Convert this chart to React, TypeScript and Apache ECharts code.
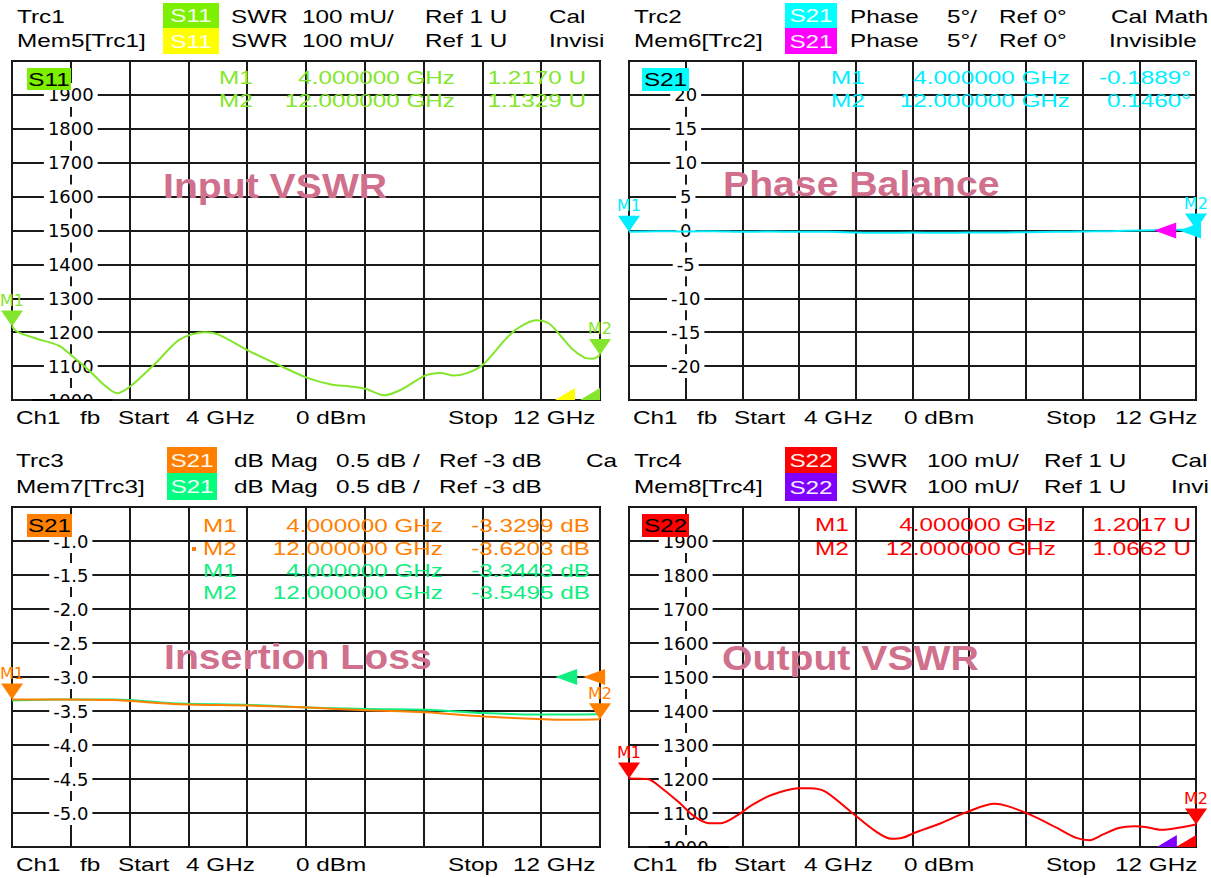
import React, { useEffect, useRef } from 'react';
import * as echarts from 'echarts';

// ---------- data ----------
const markerFreqs = [4, 12];

const s11Freq = [4.0, 4.08, 4.35, 4.64, 4.79, 5.06, 5.25, 5.43, 5.62, 5.96, 6.28, 6.62, 6.81, 7.22, 7.66, 8.01, 8.34, 8.6, 8.81, 9.06, 9.3, 9.62, 9.83, 10.01, 10.2, 10.41, 10.73, 10.89, 11.13, 11.31, 11.47, 11.63, 11.79, 11.9, 12.0];
const s11Swr = [1217.0, 1200, 1180, 1160, 1135, 1085, 1045, 1020, 1042, 1110, 1178, 1200, 1193, 1145, 1100, 1066, 1046, 1040, 1033, 1014, 1031, 1072, 1080, 1072, 1080, 1105, 1183, 1213, 1235, 1225, 1188, 1149, 1125, 1122, 1132.9];
const s11Markers = [1217.0, 1132.9];

const phaseFreq = [4.0, 4.4, 4.8, 5.2, 5.6, 6.0, 6.4, 6.8, 7.2, 7.6, 8.0, 8.4, 8.8, 9.2, 9.6, 10.0, 10.4, 10.8, 11.2, 11.6, 12.0];
const phaseDeg = [-0.1889, -0.1, -0.15, -0.1, -0.2, -0.15, -0.2, -0.2, -0.3, -0.35, -0.3, -0.35, -0.3, -0.3, -0.25, -0.2, -0.15, -0.1, 0.0, 0.1, 0.146];
const phaseMarkers = [-0.1889, 0.146];

const ilFreq = [4.0, 4.6, 5.38, 6.28, 7.23, 8.03, 8.82, 9.62, 10.41, 11.2, 11.47, 12.0];
const ilTrc3 = [-3.3299, -3.33, -3.34, -3.4, -3.42, -3.45, -3.49, -3.52, -3.58, -3.62, -3.63, -3.6203];
const ilMem7 = [-3.3443, -3.33, -3.33, -3.39, -3.41, -3.45, -3.47, -3.48, -3.53, -3.55, -3.55, -3.5495];
const ilTrc3Markers = [-3.3299, -3.6203];
const ilMem7Markers = [-3.3443, -3.5495];

const s22Freq = [4.0, 4.26, 4.48, 4.7, 4.92, 5.13, 5.3, 5.52, 5.74, 6.01, 6.39, 6.55, 6.77, 7.15, 7.48, 7.7, 7.86, 8.02, 8.4, 8.78, 9.16, 9.33, 9.66, 10.04, 10.31, 10.5, 10.69, 10.91, 11.13, 11.29, 11.51, 11.73, 12.0];
const s22Swr = [1201.7, 1200, 1170, 1132, 1090, 1070, 1070, 1092, 1124, 1153, 1173, 1173, 1163, 1100, 1046, 1024, 1027, 1041, 1070, 1104, 1127, 1121, 1095, 1056, 1027, 1020, 1037, 1056, 1061, 1059, 1051, 1056, 1066.2];
const s22Markers = [1201.7, 1066.2];

const footerWords = ['Ch1', 'fb', 'Start', '4 GHz', '0 dBm', 'Stop', '12 GHz'];

// ---------- styling ----------
const FONT = '"Liberation Sans", Arial, sans-serif';
const SX = 1.35;
const GREEN = '#84E62C';
const GREEN_BADGE = '#7CF000';
const YELLOW = '#FFFF00';
const CYAN = '#00EEFF';
const CYAN_BADGE = '#00FFFF';
const MAGENTA = '#FF00FF';
const ORANGE = '#FF8000';
const SPRING = '#10EE80';
const SPRING_BADGE = '#00FF80';
const RED = '#FF0000';
const PURPLE = '#8000FF';
const PINK = '#D0708C';
const GRIDC = '#1a1a1a';

const DOWN = 'path://M0,0L22,0L11,16Z';
const LEFT = 'path://M0,8L22,0L22,16Z';
const CORNER = 'path://M0,12L20,0L20,12Z';

const zip = (xs: number[], ys: number[]) => xs.map((x, i) => [x, ys[i]]);

function txt(text: string, x: number, y: number, fill: string, align = 'left', size = 18, weight = 'normal', sx = SX) {
  return {
    type: 'text', x, y, scaleX: sx, silent: true, z: 50,
    style: { text, fill, font: `${weight} ${size}px ${FONT}`, align, verticalAlign: 'middle' },
  };
}
function badge(label: string, x: number, y: number, w: number, h: number, bg: string, fg: string) {
  return [
    { type: 'rect', shape: { x, y, width: w, height: h }, style: { fill: bg }, z: 49, silent: true },
    txt(label, x + w / 2, y + h / 2 + 1, fg, 'center'),
  ];
}
function mDown(name: string, coord: number[], color: string) {
  return {
    coord, symbol: DOWN, symbolSize: [22, 16], symbolOffset: [0, -8],
    itemStyle: { color },
    label: { show: !!name, formatter: name, position: 'top', distance: 2, color, fontSize: 16, fontFamily: 'DejaVu Sans' },
  };
}
function mLeft(coord: number[], color: string) {
  return { coord, symbol: LEFT, symbolSize: [22, 16], symbolOffset: [11, 0], itemStyle: { color }, label: { show: false } };
}
function mCorner(coord: number[], color: string) {
  return { coord, symbol: CORNER, symbolSize: [20, 12], symbolOffset: [-10, -6], itemStyle: { color }, label: { show: false } };
}
const freqTxt = (f: number) => f.toFixed(6) + ' GHz';

const grids = [
  { left: 12, top: 61, width: 588, height: 339 },
  { left: 629, top: 61, width: 567, height: 339 },
  { left: 12, top: 507, width: 588, height: 340 },
  { left: 629, top: 507, width: 567, height: 340 },
];
const yRanges = [
  { min: 1000, max: 2000, interval: 100 },
  { min: -25, max: 25, interval: 5 },
  { min: -5.5, max: -0.5, interval: 0.5 },
  { min: 1000, max: 2000, interval: 100 },
];
const showMin = [true, false, false, true];

function footer(y: number, pos: number[]) {
  return footerWords.map((w, i) => txt(w, pos[i], y, '#000'));
}
// hides the lower half of the clipped bottom label and redraws the frame edge over it
function clipBottom(left: number, bottom: number) {
  return [
    { type: 'rect', shape: { x: left + 25, y: bottom + 1, width: 70, height: 12 }, style: { fill: '#fff' }, z: 40, silent: true },
    { type: 'rect', shape: { x: left + 20, y: bottom - 1, width: 80, height: 2 }, style: { fill: '#000' }, z: 41, silent: true },
  ];
}

export default function App() {
  const ref = useRef<HTMLDivElement>(null);
  useEffect(() => {
    if (!ref.current) return;
    const chart = echarts.init(ref.current, null, { renderer: 'svg' });

    const leftFoot = [16, 80, 118, 186, 296, 448, 513];
    const rightFoot = [633, 697, 734, 804, 904, 1046, 1115];

    const elements: any[] = [
      ...clipBottom(12, 400), ...clipBottom(629, 847),
      // ---- TL header
      txt('Trc1', 17, 17, '#000'), ...badge('S11', 163, 3, 56, 25, GREEN_BADGE, '#F4FFE8'),
      txt('SWR', 231, 17, '#000'), txt('100 mU/', 302, 17, '#000'), txt('Ref 1 U', 425, 17, '#000'), txt('Cal', 549, 17, '#000'),
      txt('Mem5[Trc1]', 17, 41, '#000'), ...badge('S11', 163, 28, 56, 26, YELLOW, '#FFFFF0'),
      txt('SWR', 231, 41, '#000'), txt('100 mU/', 302, 41, '#000'), txt('Ref 1 U', 425, 41, '#000'), txt('Invisi', 549, 41, '#000'),
      // ---- TR header
      txt('Trc2', 634, 17, '#000'), ...badge('S21', 785, 3, 52, 25, CYAN_BADGE, '#F0FFFF'),
      txt('Phase', 850, 17, '#000'), txt('5°/', 947, 17, '#000'), txt('Ref 0°', 999, 17, '#000'), txt('Cal Math', 1111, 17, '#000'),
      txt('Mem6[Trc2]', 634, 41, '#000'), ...badge('S21', 785, 28, 52, 26, MAGENTA, '#FFF0FF'),
      txt('Phase', 850, 41, '#000'), txt('5°/', 947, 41, '#000'), txt('Ref 0°', 999, 41, '#000'), txt('Invisible', 1109, 41, '#000'),
      // ---- BL header
      txt('Trc3', 16, 461, '#000'), ...badge('S21', 167, 447, 50, 26, ORANGE, '#FFF6EC'),
      txt('dB Mag', 234, 461, '#000'), txt('0.5 dB /', 336, 461, '#000'), txt('Ref -3 dB', 439, 461, '#000'), txt('Ca', 586, 461, '#000'),
      txt('Mem7[Trc3]', 16, 487, '#000'), ...badge('S21', 167, 473, 50, 27, SPRING_BADGE, '#F0FFF6'),
      txt('dB Mag', 234, 487, '#000'), txt('0.5 dB /', 336, 487, '#000'), txt('Ref -3 dB', 439, 487, '#000'),
      // ---- BR header
      txt('Trc4', 634, 461, '#000'), ...badge('S22', 785, 447, 52, 26, RED, '#FFF0F0'),
      txt('SWR', 851, 461, '#000'), txt('100 mU/', 927, 461, '#000'), txt('Ref 1 U', 1044, 461, '#000'), txt('Cal', 1171, 461, '#000'),
      txt('Mem8[Trc4]', 634, 487, '#000'), ...badge('S22', 785, 473, 52, 28, PURPLE, '#F6F0FF'),
      txt('SWR', 851, 487, '#000'), txt('100 mU/', 927, 487, '#000'), txt('Ref 1 U', 1044, 487, '#000'), txt('Invi', 1171, 487, '#000'),
      // ---- footers
      ...footer(418, leftFoot), ...footer(418, rightFoot),
      ...footer(865, leftFoot), ...footer(865, rightFoot),
      // ---- in-plot badges
      ...badge('S11', 27, 68, 44, 22, GREEN_BADGE, '#000'),
      ...badge('S21', 642, 68, 47, 23, CYAN_BADGE, '#000'),
      ...badge('S21', 27, 514, 45, 23, ORANGE, '#000'),
      ...badge('S22', 642, 514, 47, 23, RED, '#000'),
      // ---- readouts TL
      txt('M1', 219, 78, GREEN), txt(freqTxt(markerFreqs[0]), 455, 78, GREEN, 'right'), txt((s11Markers[0] / 1000).toFixed(4) + ' U', 586, 78, GREEN, 'right'),
      txt('M2', 219, 101, GREEN), txt(freqTxt(markerFreqs[1]), 455, 101, GREEN, 'right'), txt((s11Markers[1] / 1000).toFixed(4) + ' U', 586, 101, GREEN, 'right'),
      // ---- readouts TR
      txt('M1', 831, 78, CYAN), txt(freqTxt(markerFreqs[0]), 1070, 78, CYAN, 'right'), txt(phaseMarkers[0].toFixed(4) + '°', 1191, 78, CYAN, 'right'),
      txt('M2', 831, 101, CYAN), txt(freqTxt(markerFreqs[1]), 1070, 101, CYAN, 'right'), txt(phaseMarkers[1].toFixed(4) + '°', 1191, 101, CYAN, 'right'),
      // ---- readouts BL
      txt('M1', 203, 526, ORANGE), txt(freqTxt(markerFreqs[0]), 443, 526, ORANGE, 'right'), txt(ilTrc3Markers[0].toFixed(4) + ' dB', 590, 526, ORANGE, 'right'),
      { type: 'rect', shape: { x: 192, y: 547, width: 4, height: 4 }, style: { fill: ORANGE }, z: 50, silent: true },
      txt('M2', 203, 549, ORANGE), txt(freqTxt(markerFreqs[1]), 443, 549, ORANGE, 'right'), txt(ilTrc3Markers[1].toFixed(4) + ' dB', 590, 549, ORANGE, 'right'),
      txt('M1', 203, 571, SPRING), txt(freqTxt(markerFreqs[0]), 443, 571, SPRING, 'right'), txt(ilMem7Markers[0].toFixed(4) + ' dB', 590, 571, SPRING, 'right'),
      txt('M2', 203, 593, SPRING), txt(freqTxt(markerFreqs[1]), 443, 593, SPRING, 'right'), txt(ilMem7Markers[1].toFixed(4) + ' dB', 590, 593, SPRING, 'right'),
      // ---- readouts BR
      txt('M1', 815, 525, RED), txt(freqTxt(markerFreqs[0]), 1056, 525, RED, 'right'), txt((s22Markers[0] / 1000).toFixed(4) + ' U', 1191, 525, RED, 'right'),
      txt('M2', 815, 549, RED), txt(freqTxt(markerFreqs[1]), 1056, 549, RED, 'right'), txt((s22Markers[1] / 1000).toFixed(4) + ' U', 1191, 549, RED, 'right'),
      // ---- watermark titles
      txt('Input VSWR', 163, 186, PINK, 'left', 35, 'bold', 1.12),
      txt('Phase Balance', 723, 184, PINK, 'left', 35, 'bold', 1.12),
      txt('Insertion Loss', 164, 657, PINK, 'left', 35, 'bold', 1.12),
      txt('Output VSWR', 722, 658, PINK, 'left', 35, 'bold', 1.12),
    ];

    const option: any = {
      animation: false,
      backgroundColor: '#fff',
      grid: grids.map((g) => ({ ...g, show: true, borderColor: '#000', borderWidth: 2, backgroundColor: '#fff' })),
      xAxis: grids.map((_, i) => ({
        gridIndex: i, type: 'value', min: 4, max: 12, interval: 0.8,
        axisLine: { show: false }, axisTick: { show: false }, axisLabel: { show: false },
        splitLine: { show: true, lineStyle: { color: GRIDC, width: 2 } },
      })),
      yAxis: grids.map((g, i) => ({
        gridIndex: i, type: 'value', ...yRanges[i], z: 1,
        axisLine: { show: false }, axisTick: { show: false },
        splitLine: { show: true, lineStyle: { color: GRIDC, width: 2 } },
        axisLabel: {
          inside: true, margin: g.width / 10, align: 'center',
          showMinLabel: showMin[i], showMaxLabel: false,
          color: '#000', fontFamily: 'DejaVu Sans', fontSize: 18, lineHeight: 18,
          backgroundColor: '#fff', padding: [3, 4],
          formatter: i === 2 ? (v: number) => v.toFixed(1) : (v: number) => String(v),
        },
      })),
      series: [
        {
          type: 'line', xAxisIndex: 0, yAxisIndex: 0, data: zip(s11Freq, s11Swr), showSymbol: false, smooth: 0.3,
          lineStyle: { color: GREEN, width: 2 }, itemStyle: { color: GREEN },
          markPoint: {
            silent: true,
            data: [
              mDown('M1', [markerFreqs[0], s11Markers[0]], GREEN),
              mDown('M2', [markerFreqs[1], s11Markers[1]], GREEN),
              mCorner([11.66, 1000], YELLOW),
              mCorner([12, 1000], GREEN),
            ],
          },
        },
        {
          type: 'line', xAxisIndex: 1, yAxisIndex: 1, data: zip(phaseFreq, phaseDeg), showSymbol: false, smooth: 0.3,
          lineStyle: { color: CYAN, width: 2 }, itemStyle: { color: CYAN },
          markPoint: {
            silent: true,
            data: [
              mDown('M1', [markerFreqs[0], phaseMarkers[0]], CYAN),
              mLeft([11.41, 0], MAGENTA),
              mLeft([11.76, 0], CYAN),
              mDown('M2', [markerFreqs[1], phaseMarkers[1]], CYAN),
            ],
          },
        },
        {
          type: 'line', xAxisIndex: 2, yAxisIndex: 2, data: zip(ilFreq, ilMem7), showSymbol: false, smooth: 0.3,
          lineStyle: { color: SPRING, width: 2 }, itemStyle: { color: SPRING },
          markPoint: { silent: true, data: [mLeft([11.39, -3.0], SPRING)] },
        },
        {
          type: 'line', xAxisIndex: 2, yAxisIndex: 2, data: zip(ilFreq, ilTrc3), showSymbol: false, smooth: 0.3,
          lineStyle: { color: ORANGE, width: 2 }, itemStyle: { color: ORANGE },
          markPoint: {
            silent: true,
            data: [
              mDown('M1', [markerFreqs[0], ilTrc3Markers[0]], ORANGE),
              mLeft([11.77, -3.0], ORANGE),
              mDown('M2', [markerFreqs[1], ilTrc3Markers[1]], ORANGE),
            ],
          },
        },
        {
          type: 'line', xAxisIndex: 3, yAxisIndex: 3, data: zip(s22Freq, s22Swr), showSymbol: false, smooth: 0.3,
          lineStyle: { color: RED, width: 2 }, itemStyle: { color: RED },
          markPoint: {
            silent: true,
            data: [
              mDown('M1', [markerFreqs[0], s22Markers[0]], RED),
              mDown('M2', [markerFreqs[1], s22Markers[1]], RED),
              mCorner([11.73, 1000], PURPLE),
              mCorner([12, 1000], RED),
            ],
          },
        },
      ],
      graphic: { elements },
    };

    chart.setOption(option);
    return () => chart.dispose();
  }, []);

  return <div ref={ref} style={{ position: 'absolute', left: 0, top: 0, width: 1211, height: 878, background: '#fff' }} />;
}
